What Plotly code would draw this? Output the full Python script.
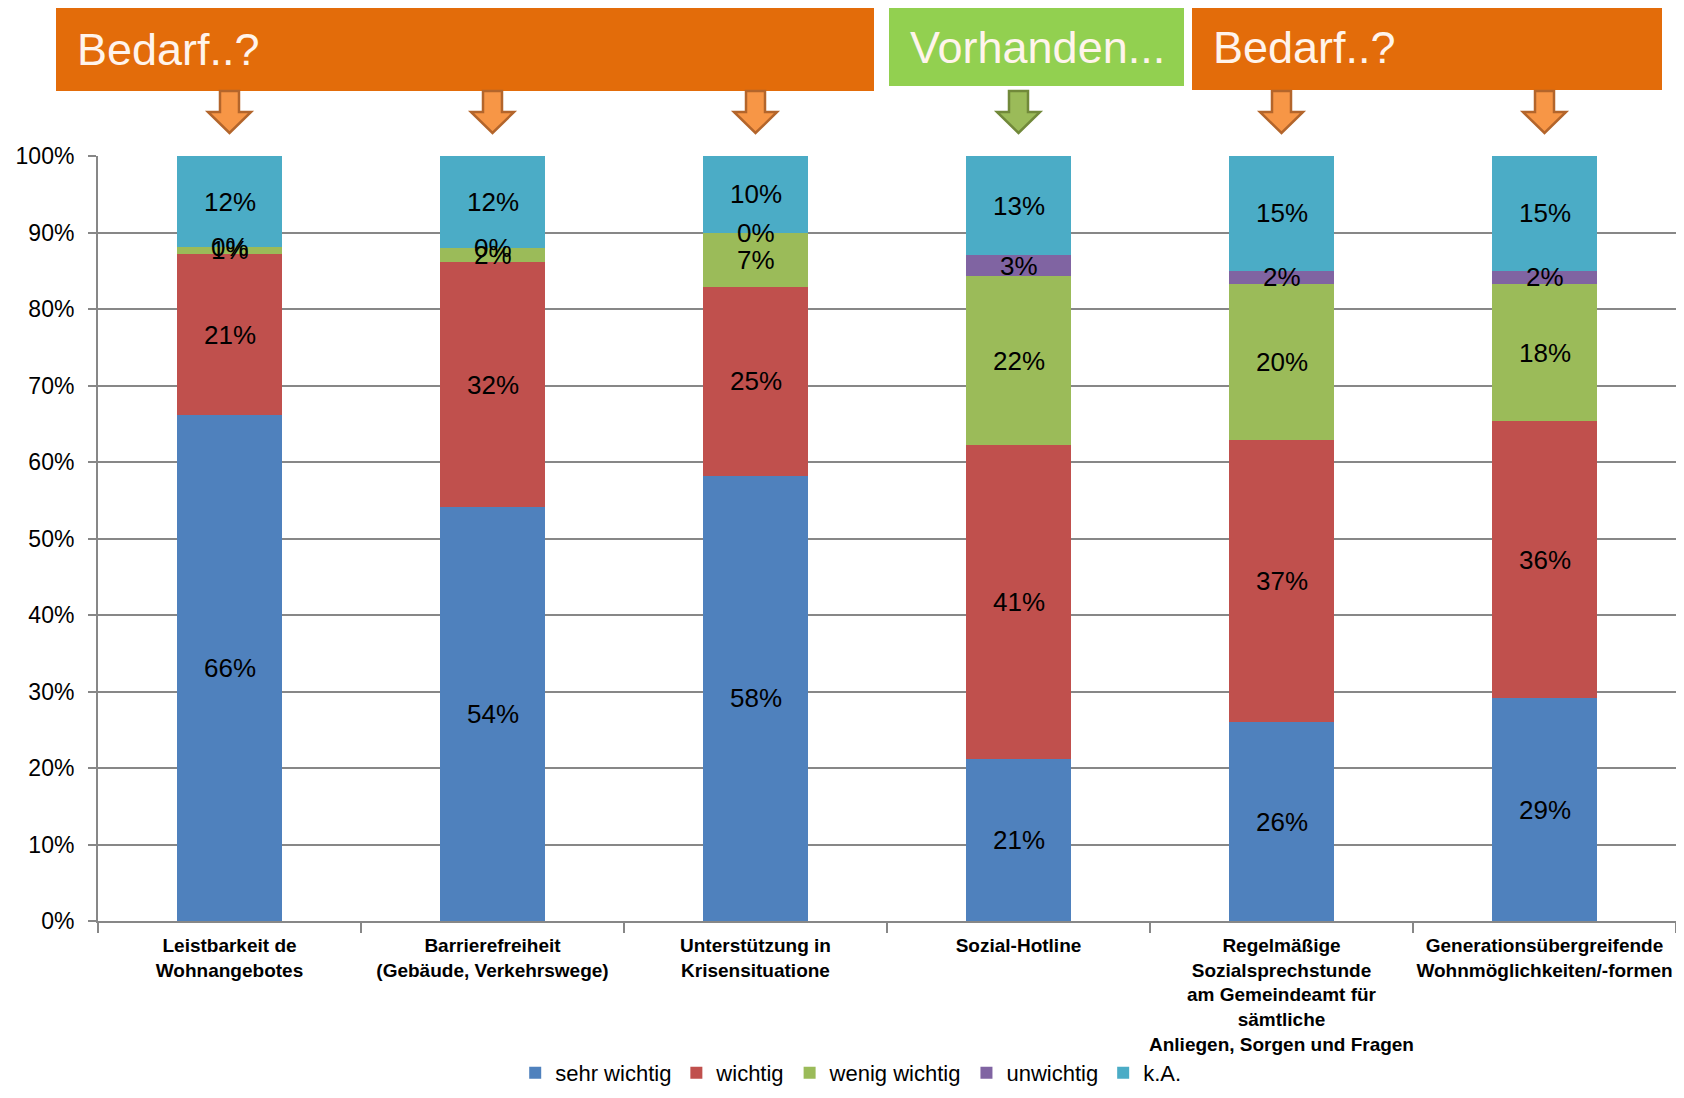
import plotly.graph_objects as go

# the page adds an 8px body margin, so the figure is a bit smaller than the window
OFF = 8
W, H = 1684 - 2 * OFF, 1098 - 2 * OFF
# plot area in window pixels: x 98..1676, y 156..921
PX0, PX1, PY0, PY1 = 98, 1676, 156, 921
ML, MT = PX0 - OFF, PY0 - OFF
MR, MB = W - (PX1 - OFF), H - (PY1 - OFF)

FONT = "Liberation Sans, Arial, sans-serif"
GRID = "#878787"

categories = [
    "Leistbarkeit de<br>Wohnangebotes",
    "Barrierefreiheit<br>(Gebäude, Verkehrswege)",
    "Unterstützung in<br>Krisensituatione",
    "Sozial-Hotline",
    "Regelmäßige<br>Sozialsprechstunde<br>am Gemeindeamt für<br>sämtliche<br>Anliegen, Sorgen und Fragen",
    "Generationsübergreifende<br>Wohnmöglichkeiten/-formen",
]

# percentages per answer, per category
sehr_wichtig = [66.1, 54.1, 58.2, 21.2, 26.0, 29.1]
wichtig = [21.1, 32.0, 24.7, 41.0, 36.9, 36.2]
wenig_wichtig = [0.9, 1.9, 7.1, 22.1, 20.4, 18.0]
unwichtig = [0.0, 0.0, 0.0, 2.7, 1.7, 1.7]
k_a = [11.9, 12.0, 10.0, 13.0, 15.0, 15.0]

series = [
    ("sehr wichtig", sehr_wichtig, "#4F81BD"),
    ("wichtig", wichtig, "#C0504D"),
    ("wenig wichtig", wenig_wichtig, "#9BBB59"),
    ("unwichtig", unwichtig, "#8064A2"),
    ("k.A.", k_a, "#4BACC6"),
]

# banners above the chart: (text, left px, right px, top px, bottom px, colour)
banners = [
    ("Bedarf..?", 56, 874, 7, 91, "#E36C0A"),
    ("Vorhanden...", 889, 1184, 8, 86, "#92D050"),
    ("Bedarf..?", 1192, 1662, 5, 90, "#E36C0A"),
]
arrow_kind = ["o", "o", "o", "g", "o", "o"]


def px_x(p):
    return (p - PX0) / (PX1 - PX0)


def px_y(p):
    return (PY1 - p) / (PY1 - PY0)


fig = go.Figure()
for name, vals, col in series:
    fig.add_trace(go.Bar(x=categories, y=vals, name=name,
        marker=dict(color=col, line=dict(width=0)),
        hoverinfo="name+y"))

# data labels centred in each segment
annotations = []
base = [0.0] * len(categories)
for name, vals, col in series:
    for i, v in enumerate(vals):
        annotations.append(dict(x=categories[i], y=base[i] + v / 2,
            xref="x", yref="y", text=f"{v:.0f}%", showarrow=False,
            font=dict(family=FONT, size=26, color="#000000")))
        base[i] += v

shapes = []
for text, x0, x1, y0, y1, col in banners:
    shapes.append(dict(type="rect", xref="paper", yref="paper",
        x0=px_x(x0), x1=px_x(x1), y0=px_y(y1), y1=px_y(y0),
        fillcolor=col, line=dict(width=0), layer="above"))
    annotations.append(dict(x=px_x(x0 + 19), y=px_y((y0 + y1) / 2),
        xref="paper", yref="paper", xanchor="left", yanchor="middle",
        text=text, showarrow=False,
        font=dict(family=FONT, size=45, color="#FFF4EC")))

# down arrows under banners
n = len(categories)
for i, kind in enumerate(arrow_kind):
    cx = PX0 + (PX1 - PX0) * (i + 0.5) / n
    fill, edge = ("#F79646", "#B3652B") if kind == "o" else ("#9BBB59", "#71893A")
    pts = [(cx - 9.5, 91), (cx + 9.5, 91), (cx + 9.5, 112), (cx + 21.5, 112),
           (cx, 133), (cx - 21.5, 112), (cx - 9.5, 112)]
    path = "M " + " L ".join(f"{px_x(a):.5f},{px_y(b):.5f}" for a, b in pts) + " Z"
    shapes.append(dict(type="path", xref="paper", yref="paper", path=path,
        fillcolor=fill, line=dict(color=edge, width=2.5), layer="above"))

fig.update_layout(
    width=W, height=H,
    margin=dict(l=ML, r=MR, t=MT, b=MB, autoexpand=False),
    paper_bgcolor="white", plot_bgcolor="white",
    font=dict(family=FONT, color="#000000", size=22),
    barmode="stack", bargap=0.6,
    showlegend=True,
    legend=dict(orientation="h", x=0.477, xanchor="center",
                y=px_y(1094), yanchor="bottom", traceorder="normal",
                bgcolor="rgba(0,0,0,0)",
                font=dict(family=FONT, size=22), itemwidth=30),
    xaxis=dict(showline=True, linecolor=GRID, linewidth=2,
               ticks="outside", tickson="boundaries", ticklen=10,
               tickcolor=GRID, tickwidth=1.5, ticklabelstandoff=6,
               tickfont=dict(family=FONT, size=19, color="#000000",
                             weight="bold"),
               tickangle=0),
    yaxis=dict(range=[0, 100], dtick=10, ticksuffix="%",
               showline=True, linecolor=GRID, linewidth=2,
               showgrid=True, gridcolor=GRID, gridwidth=2,
               zeroline=False,
               ticks="outside", ticklen=8, tickcolor=GRID, tickwidth=2,
               ticklabelstandoff=9,
               tickfont=dict(family=FONT, size=23, color="#000000")),
    annotations=annotations,
    shapes=shapes,
)

fig.write_html("out.html")
